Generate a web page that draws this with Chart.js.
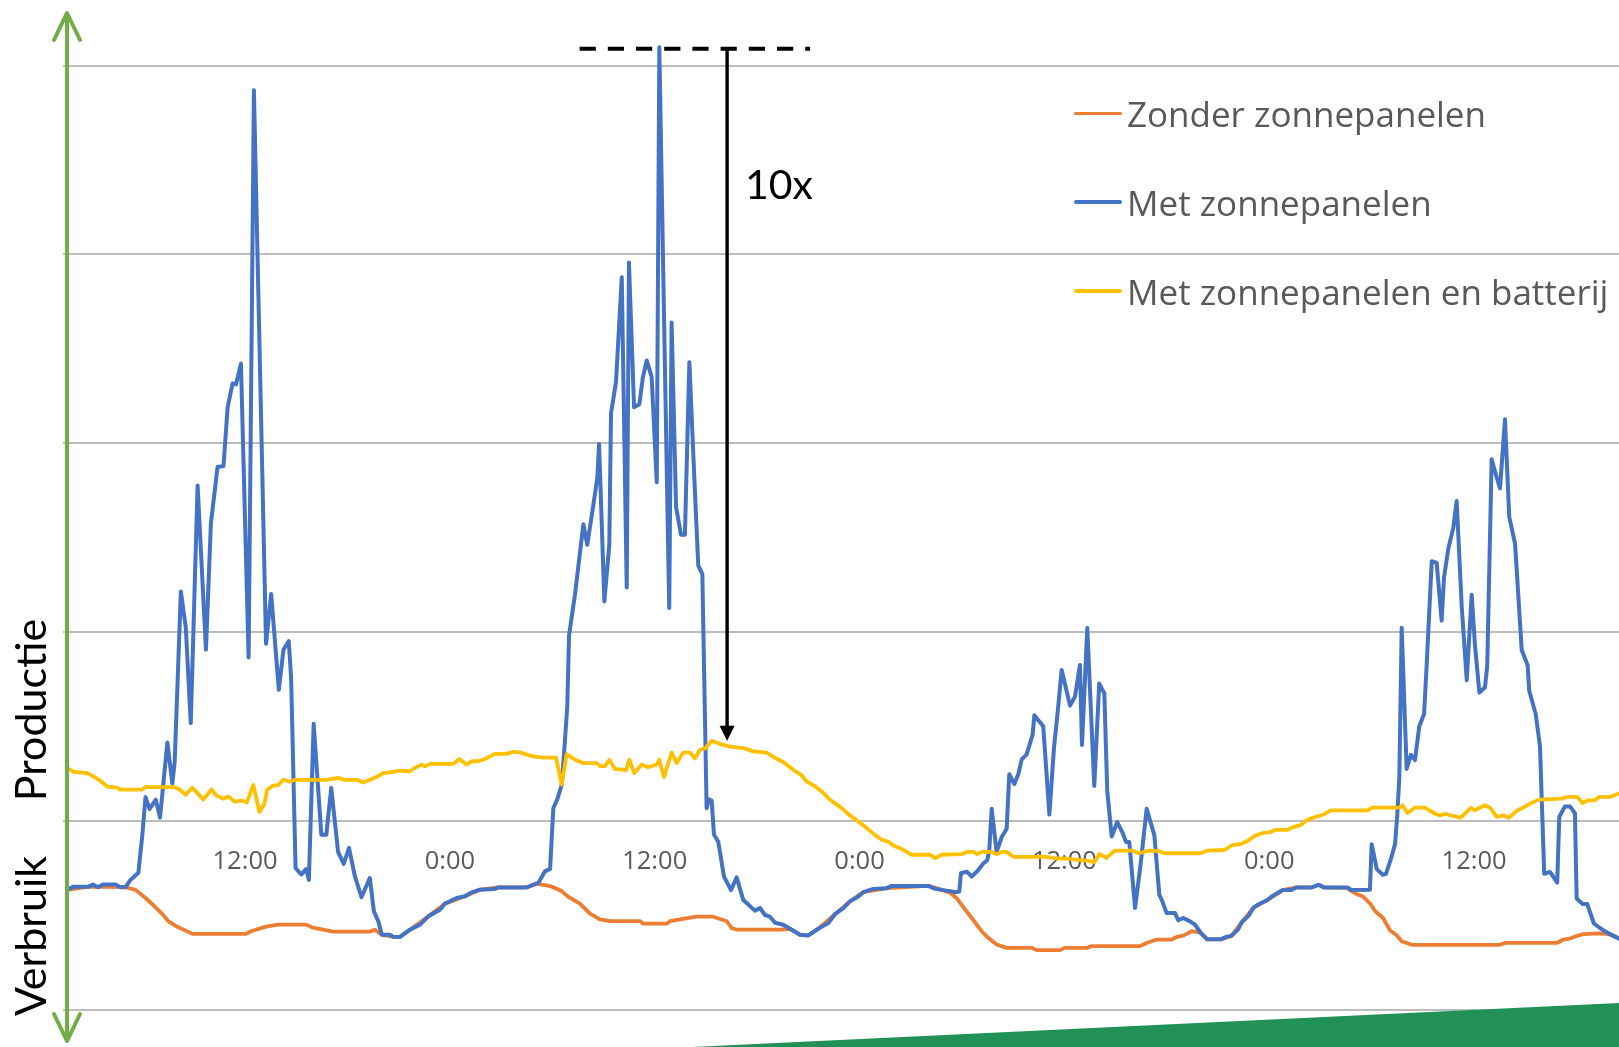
<!DOCTYPE html>
<html lang="nl">
<head>
<meta charset="utf-8">
<title>Verbruik en productie</title>
<script src="https://cdn.jsdelivr.net/npm/chart.js@4.4.1/dist/chart.umd.min.js"></script>
<style>
  html, body { margin: 0; padding: 0; background: #fff; overflow: hidden; }
  #wrap { position: relative; width: 1619px; height: 1047px; }
  #chart { position: absolute; left: 0; top: 0; }
  .label { position: absolute; white-space: nowrap; line-height: 1; color: #000; font-family: Lato, sans-serif; }
  .side { font-size: 43px; left: 29.4px; transform: translate(-50%, -50%) rotate(-90deg); }
  #factor { font-size: 41px; left: 745px; top: 163px; }
  .legend-row { position: absolute; left: 1074px; height: 35px; display: flex; align-items: center;
                font: 35px "Open Sans", sans-serif; line-height: 35px; color: #595959; white-space: nowrap; }
  .legend-row .swatch { display: inline-block; width: 48px; height: 3.8px; margin-right: 5px; border-radius: 2px; }
</style>
</head>
<body>
<div id="wrap">
  <canvas id="chart" width="1619" height="1047"></canvas>
  <div class="label side" style="top:710px">Productie</div>
  <div class="label side" style="top:936px">Verbruik</div>
  <div class="label" id="factor">10x</div>
</div>

<script>
// ============================================================
// Data (uren vanaf 0:00 op dag 1, waarde in eenheden van de raster)
// ============================================================
const seriesNames = ["Zonder zonnepanelen", "Met zonnepanelen", "Met zonnepanelen en batterij"];
const seriesColors = ["#ED7D31", "#4472C4", "#FFC000"];
const tickLabels = ["0:00", "12:00"];

const orangeHours = [1.57,2.84,5.00,5.59,6.17,6.67,7.16,7.55,7.94,8.92,
  12.06,12.35,12.84,13.23,13.92,15.58,15.98,16.57,17.15,19.31,
  19.60,20.01,20.69,21.08,21.66,22.74,23.71,24.89,25.76,26.84,
  28.50,29.09,29.87,30.51,30.92,31.62,32.21,32.79,33.38,35.15,
  35.33,36.70,36.89,37.48,38.46,39.43,40.22,40.51,40.80,43.34,
  43.93,44.51,45.00,45.58,46.56,47.44,48.22,49.59,52.03,52.81,
  53.30,53.69,53.98,54.57,55.15,55.54,56.03,56.62,58.08,58.38,
  59.74,60.03,61.31,61.60,64.43,64.82,65.41,66.29,66.58,66.96,
  67.46,67.98,68.37,69.17,69.78,70.38,71.08,71.89,72.79,73.59,
  74.49,74.89,75.20,76.53,77.02,77.51,77.90,78.20,78.68,79.08,
  79.47,79.76,80.35,85.52,85.81,88.84,89.23,89.62,90.01,90.40,
  91.38,91.86,92.49];
const orangeValues = [-0.364,-0.347,-0.350,-0.364,-0.407,-0.449,-0.492,-0.534,-0.555,-0.597,
  -0.597,-0.583,-0.569,-0.559,-0.548,-0.548,-0.564,-0.575,-0.585,-0.585,
  -0.575,-0.601,-0.613,-0.613,-0.575,-0.504,-0.437,-0.398,-0.363,-0.351,
  -0.351,-0.331,-0.344,-0.368,-0.400,-0.437,-0.490,-0.520,-0.530,-0.530,
  -0.543,-0.543,-0.530,-0.520,-0.506,-0.506,-0.530,-0.567,-0.574,-0.574,
  -0.570,-0.602,-0.605,-0.570,-0.493,-0.425,-0.376,-0.355,-0.343,-0.364,
  -0.379,-0.408,-0.443,-0.513,-0.583,-0.618,-0.653,-0.671,-0.671,-0.683,
  -0.683,-0.671,-0.671,-0.662,-0.662,-0.645,-0.627,-0.627,-0.613,-0.606,
  -0.583,-0.591,-0.626,-0.626,-0.608,-0.537,-0.458,-0.418,-0.365,-0.351,
  -0.351,-0.337,-0.351,-0.353,-0.382,-0.401,-0.435,-0.476,-0.514,-0.579,
  -0.604,-0.636,-0.655,-0.655,-0.645,-0.645,-0.627,-0.622,-0.608,-0.598,
  -0.594,-0.598,-0.622];

const blueHours = [1.57,1.96,2.84,3.09,3.39,3.68,4.41,4.70,5.00,5.30,
  5.75,5.98,6.17,6.41,6.77,7.02,7.45,7.74,7.88,8.24,
  8.53,8.82,9.22,9.71,10.00,10.39,10.74,10.98,11.27,11.47,
  11.76,12.21,12.52,13.23,13.53,13.98,14.25,14.56,14.70,14.96,
  15.29,15.58,15.74,16.02,16.47,16.76,17.05,17.45,17.78,18.09,
  18.43,18.82,19.31,19.55,19.81,20.01,20.49,20.69,21.08,
  21.66,22.25,22.74,23.42,23.71,24.40,24.89,25.28,25.76,26.64,
  26.84,28.50,28.99,29.18,29.57,29.87,30.06,30.29,30.55,30.74,
  30.88,30.98,31.33,31.82,32.05,32.44,32.64,32.74,33.05,33.34,
  33.44,33.73,34.07,34.36,34.49,34.79,35.10,35.30,35.53,35.82,
  36.12,36.27,36.50,36.85,36.99,37.25,37.54,37.77,38.03,38.32,
  38.55,38.79,39.04,39.18,39.34,39.47,39.72,40.06,40.47,40.80,
  41.19,41.87,42.17,42.46,42.75,43.05,
  43.53,43.93,44.51,45.00,45.58,46.17,46.56,47.05,47.44,47.93,
  48.22,48.80,49.59,49.88,52.03,52.32,52.81,53.40,53.59,53.84,
  53.94,54.28,54.57,54.96,55.25,55.48,55.60,55.74,56.03,56.33,
  56.62,56.77,57.07,57.30,57.50,57.79,58.14,58.24,58.76,59.12,
  59.39,59.61,59.84,60.33,60.62,60.91,61.03,61.34,61.75,62.04,
  62.34,62.51,62.77,63.10,63.39,63.61,63.80,64.14,64.47,64.82,
  65.27,65.56,65.74,65.99,66.48,66.67,66.96,67.36,67.65,
  67.98,68.37,69.17,69.47,69.78,70.18,70.38,70.78,71.08,71.38,
  71.89,72.19,72.79,73.29,73.59,74.49,74.89,75.20,76.60,76.80,
  77.90,
  78.00,78.30,78.65,78.84,79.12,79.37,79.50,79.62,79.76,80.05,
  80.30,80.54,80.79,81.07,81.22,81.52,81.81,82.10,82.24,82.49,
  82.78,82.98,83.28,83.57,83.86,84.05,84.31,84.64,84.77,85.03,
  85.33,85.52,85.81,86.06,86.40,86.79,87.14,87.23,87.61,87.86,
  88.11,88.45,88.87,88.99,89.32,89.62,89.91,90.01,90.36,90.63,
  91.02,91.37,91.77,92.49];
const blueValues = [-0.364,-0.347,-0.347,-0.336,-0.350,-0.336,-0.336,-0.350,-0.350,-0.310,
  -0.273,-0.077,0.127,0.064,0.114,0.019,0.416,0.199,0.315,1.216,
  1.025,0.519,1.777,0.908,1.576,1.875,1.880,2.190,2.317,2.312,
  2.423,0.866,3.869,0.939,1.203,0.695,0.907,0.953,0.758,-0.248,
  -0.283,-0.254,-0.311,0.515,-0.072,-0.072,0.176,-0.163,-0.227,-0.142,
  -0.290,-0.403,-0.301,-0.478,-0.531,-0.601,-0.601,-0.613,-0.613,
  -0.575,-0.548,-0.504,-0.469,-0.437,-0.407,-0.398,-0.377,-0.363,-0.359,
  -0.351,-0.351,-0.333,-0.327,-0.266,-0.253,0.068,0.115,0.192,0.425,
  0.611,0.983,1.200,1.572,1.463,1.695,1.819,1.996,1.163,1.463,
  2.160,2.322,2.879,1.237,2.957,2.191,2.207,2.346,2.439,2.352,
  1.794,4.097,2.904,1.128,2.640,1.664,1.516,1.516,2.430,1.819,
  1.354,1.308,0.068,0.115,0.109,-0.071,-0.109,-0.294,-0.365,-0.298,
  -0.418,-0.474,-0.460,-0.497,-0.506,-0.538,
  -0.549,-0.570,-0.602,-0.605,-0.570,-0.540,-0.493,-0.461,-0.425,-0.399,
  -0.376,-0.359,-0.355,-0.343,-0.343,-0.355,-0.364,-0.372,-0.377,-0.373,
  -0.276,-0.267,-0.294,-0.259,-0.224,-0.207,-0.154,0.065,-0.163,-0.084,
  -0.040,0.248,0.196,0.248,0.327,0.353,0.458,0.560,0.502,0.035,
  0.388,0.581,0.800,0.612,0.659,0.826,0.403,1.022,0.187,0.728,
  0.676,0.160,-0.081,-0.005,-0.058,-0.110,-0.110,-0.460,-0.224,0.065,
  -0.075,-0.390,-0.425,-0.487,-0.487,-0.525,-0.513,-0.531,-0.548,
  -0.591,-0.626,-0.626,-0.613,-0.608,-0.573,-0.537,-0.502,-0.458,-0.440,
  -0.418,-0.396,-0.365,-0.365,-0.351,-0.351,-0.337,-0.351,-0.351,-0.365,
  -0.363,
  -0.122,-0.254,-0.284,-0.279,-0.203,-0.122,0.032,0.229,1.024,0.276,
  0.351,0.323,0.502,0.567,0.821,1.376,1.367,1.062,1.291,1.442,
  1.551,1.695,1.131,0.746,1.198,0.934,0.680,0.709,0.821,1.916,
  1.818,1.762,2.128,1.611,1.470,0.906,0.825,0.690,0.567,0.398,
  -0.279,-0.269,-0.326,0.022,0.078,0.078,0.041,-0.410,-0.439,-0.439,
  -0.542,-0.566,-0.589,-0.622];

const yellowHours = [1.57,1.96,2.76,3.03,3.43,3.93,4.51,4.70,5.98,6.17,
  7.84,8.14,8.53,8.92,9.55,10.04,10.33,10.73,11.02,11.41,
  11.80,12.10,12.49,12.84,13.13,13.30,13.66,13.95,14.25,14.60,
  14.90,16.76,17.45,17.84,18.62,18.92,19.70,20.09,20.68,21.08,
  21.66,21.96,22.35,22.54,22.84,24.20,24.55,24.99,25.28,25.66,
  26.06,26.64,27.33,27.72,28.11,28.50,28.89,29.47,30.22,30.55,
  30.84,31.33,31.82,32.60,32.79,33.09,33.34,33.67,34.32,34.51,
  34.80,35.24,35.62,36.12,36.27,36.54,36.99,37.29,37.67,38.07,
  38.36,38.65,38.95,39.34,39.82,40.41,41.19,41.77,42.56,43.05,
  43.53,44.12,44.61,44.90,45.39,45.78,46.27,46.95,47.34,47.93,
  48.42,48.90,49.30,49.68,49.98,50.56,51.05,52.13,52.42,52.81,
  53.98,54.28,54.66,54.90,55.15,55.74,56.03,56.33,56.62,57.01,
  58.96,59.55,60.13,60.91,61.35,61.75,62.05,62.45,62.95,63.95,
  64.36,64.96,65.56,65.86,67.97,68.37,69.37,69.78,70.38,70.78,
  71.18,71.58,72.08,72.38,73.09,73.39,73.79,74.19,74.69,75.20,
  75.59,77.80,78.00,79.61,79.81,80.11,80.51,81.12,81.72,82.02,
  82.32,82.62,83.22,83.83,84.03,84.63,84.93,85.33,85.74,86.03,
  86.54,87.13,87.34,87.84,89.14,89.45,90.05,90.35,90.65,91.05,
  91.35,91.96,92.49];
const yellowValues = [0.282,0.261,0.254,0.241,0.220,0.183,0.177,0.167,0.167,0.180,
  0.180,0.169,0.140,0.177,0.114,0.167,0.135,0.119,0.130,0.103,
  0.109,0.098,0.191,0.049,0.090,0.167,0.188,0.191,0.220,0.208,
  0.218,0.218,0.229,0.218,0.218,0.204,0.233,0.254,0.261,0.267,
  0.264,0.282,0.299,0.290,0.303,0.303,0.329,0.299,0.317,0.317,
  0.329,0.356,0.356,0.367,0.364,0.352,0.343,0.336,0.336,0.193,
  0.355,0.325,0.307,0.307,0.291,0.291,0.325,0.276,0.270,0.325,
  0.254,0.300,0.285,0.300,0.325,0.233,0.363,0.307,0.363,0.363,
  0.332,0.378,0.385,0.425,0.409,0.394,0.387,0.369,0.363,0.334,
  0.313,0.272,0.242,0.210,0.184,0.157,0.113,0.069,0.037,-0.002,
  -0.037,-0.073,-0.099,-0.108,-0.129,-0.152,-0.178,-0.178,-0.196,-0.178,
  -0.175,-0.163,-0.163,-0.175,-0.163,-0.163,-0.175,-0.163,-0.163,-0.189,
  -0.189,-0.198,-0.198,-0.207,-0.209,-0.218,-0.174,-0.195,-0.156,-0.156,
  -0.170,-0.156,-0.159,-0.170,-0.170,-0.156,-0.153,-0.129,-0.120,-0.103,
  -0.076,-0.064,-0.058,-0.046,-0.046,-0.032,-0.023,0.004,0.022,0.035,
  0.057,0.057,0.071,0.071,0.084,0.043,0.071,0.071,0.039,0.030,
  0.039,0.030,0.018,0.071,0.057,0.084,0.071,0.022,0.030,0.018,
  0.057,0.084,0.096,0.114,0.119,0.128,0.128,0.096,0.110,0.110,
  0.128,0.128,0.146];

// annotatie "10x": gestippelde lijn op de piek en pijl naar de batterij-piek (in uren)
const dashFromHour = 31.6;
const dashToHour = 45.1;
const arrowHour = 40.24;

// ============================================================
// Legenda (HTML, rechtsboven in het plotvlak)
// ============================================================
const wrap = document.getElementById("wrap");
seriesNames.forEach((name, i) => {
  const row = document.createElement("div");
  row.className = "legend-row";
  row.style.top = (96 + i * 88.8) + "px";
  row.innerHTML = `<span class="swatch" style="background:${seriesColors[i]}"></span><span>${name}</span>`;
  wrap.appendChild(row);
});

const toPoints = (hours, values) => hours.map((h, i) => ({ x: h, y: values[i] }));

// ============================================================
// Extra tekenwerk: groene as met pijlen, groene driehoek, 10x-pijl
// ============================================================
const decorations = {
  id: "decorations",
  afterDraw(chart) {
    const { ctx, chartArea, scales: { x, y } } = chart;
    const W = chart.width, H = chart.height;
    ctx.save();

    // groene driehoek onderaan
    ctx.fillStyle = "#219158";
    ctx.beginPath();
    ctx.moveTo(692, H);
    ctx.lineTo(W, 1003);
    ctx.lineTo(W, H);
    ctx.closePath();
    ctx.fill();

    // gestippelde lijn op hoogte van de piek
    const peakY = y.getPixelForValue(Math.max(...blueValues));
    ctx.strokeStyle = "#000";
    ctx.lineWidth = 4;
    ctx.setLineDash([16.2, 12]);
    ctx.beginPath();
    ctx.moveTo(x.getPixelForValue(dashFromHour), peakY + 1.5);
    ctx.lineTo(x.getPixelForValue(dashToHour), peakY + 1.5);
    ctx.stroke();
    ctx.setLineDash([]);

    // pijl van piek naar piek met batterij
    const ax = x.getPixelForValue(arrowHour);
    const tip = y.getPixelForValue(Math.max(...yellowValues));
    ctx.lineWidth = 3.4;
    ctx.beginPath();
    ctx.moveTo(ax, peakY);
    ctx.lineTo(ax, tip - 13);
    ctx.stroke();
    ctx.fillStyle = "#000";
    ctx.beginPath();
    ctx.moveTo(ax - 7.5, tip - 15);
    ctx.lineTo(ax + 7.5, tip - 15);
    ctx.lineTo(ax, tip);
    ctx.closePath();
    ctx.fill();

    // groene verticale as met pijl omhoog en omlaag
    const gx = chartArea.left;
    ctx.strokeStyle = "#70AD47";
    ctx.lineWidth = 4;
    ctx.lineCap = "round";
    ctx.lineJoin = "round";
    ctx.beginPath();
    ctx.moveTo(gx, 14);
    ctx.lineTo(gx, 1040);
    ctx.stroke();
    ctx.beginPath();
    ctx.moveTo(gx - 13, 40); ctx.lineTo(gx, 13); ctx.lineTo(gx + 13, 40);
    ctx.stroke();
    ctx.beginPath();
    ctx.moveTo(gx - 13, 1014); ctx.lineTo(gx, 1041); ctx.lineTo(gx + 13, 1014);
    ctx.stroke();

    ctx.restore();
  },
};

// ============================================================
// Chart
// ============================================================
const ctx = document.getElementById("chart").getContext("2d");
const lineStyle = { pointRadius: 0, tension: 0, borderJoinStyle: "round", borderCapStyle: "round" };

new Chart(ctx, {
  type: "line",
  data: {
    datasets: [
      { label: seriesNames[0], data: toPoints(orangeHours, orangeValues), borderColor: seriesColors[0], borderWidth: 3.8, order: 3, ...lineStyle },
      { label: seriesNames[1], data: toPoints(blueHours, blueValues), borderColor: seriesColors[1], borderWidth: 4, order: 2, ...lineStyle },
      { label: seriesNames[2], data: toPoints(yellowHours, yellowValues), borderColor: seriesColors[2], borderWidth: 3.8, order: 1, ...lineStyle },
    ],
  },
  options: {
    responsive: false,
    animation: false,
    events: [],
    layout: { padding: { left: 63, right: 0, top: 27.8, bottom: 37 } },
    plugins: { legend: { display: false }, tooltip: { enabled: false } },
    scales: {
      x: {
        type: "linear",
        min: 1.57,
        max: 92.49,
        position: { y: 0 },
        z: 1,
        grid: { display: false, drawTicks: false },
        border: { display: false },
        ticks: {
          stepSize: 12,
          includeBounds: false,
          autoSkip: false,
          maxRotation: 0,
          padding: 25,
          color: "#595959",
          font: { family: "Open Sans", size: 25.5 },
          callback: v => tickLabels[(v % 24) / 12],
        },
      },
      y: {
        min: -1,
        max: 4.2,
        border: { display: false },
        grid: { color: "#BDBDBD", lineWidth: 2, drawTicks: true, tickLength: 4, tickColor: "#BDBDBD" },
        ticks: { display: false, stepSize: 1, includeBounds: false },
      },
    },
  },
  plugins: [decorations],
});
</script>
</body>
</html>
